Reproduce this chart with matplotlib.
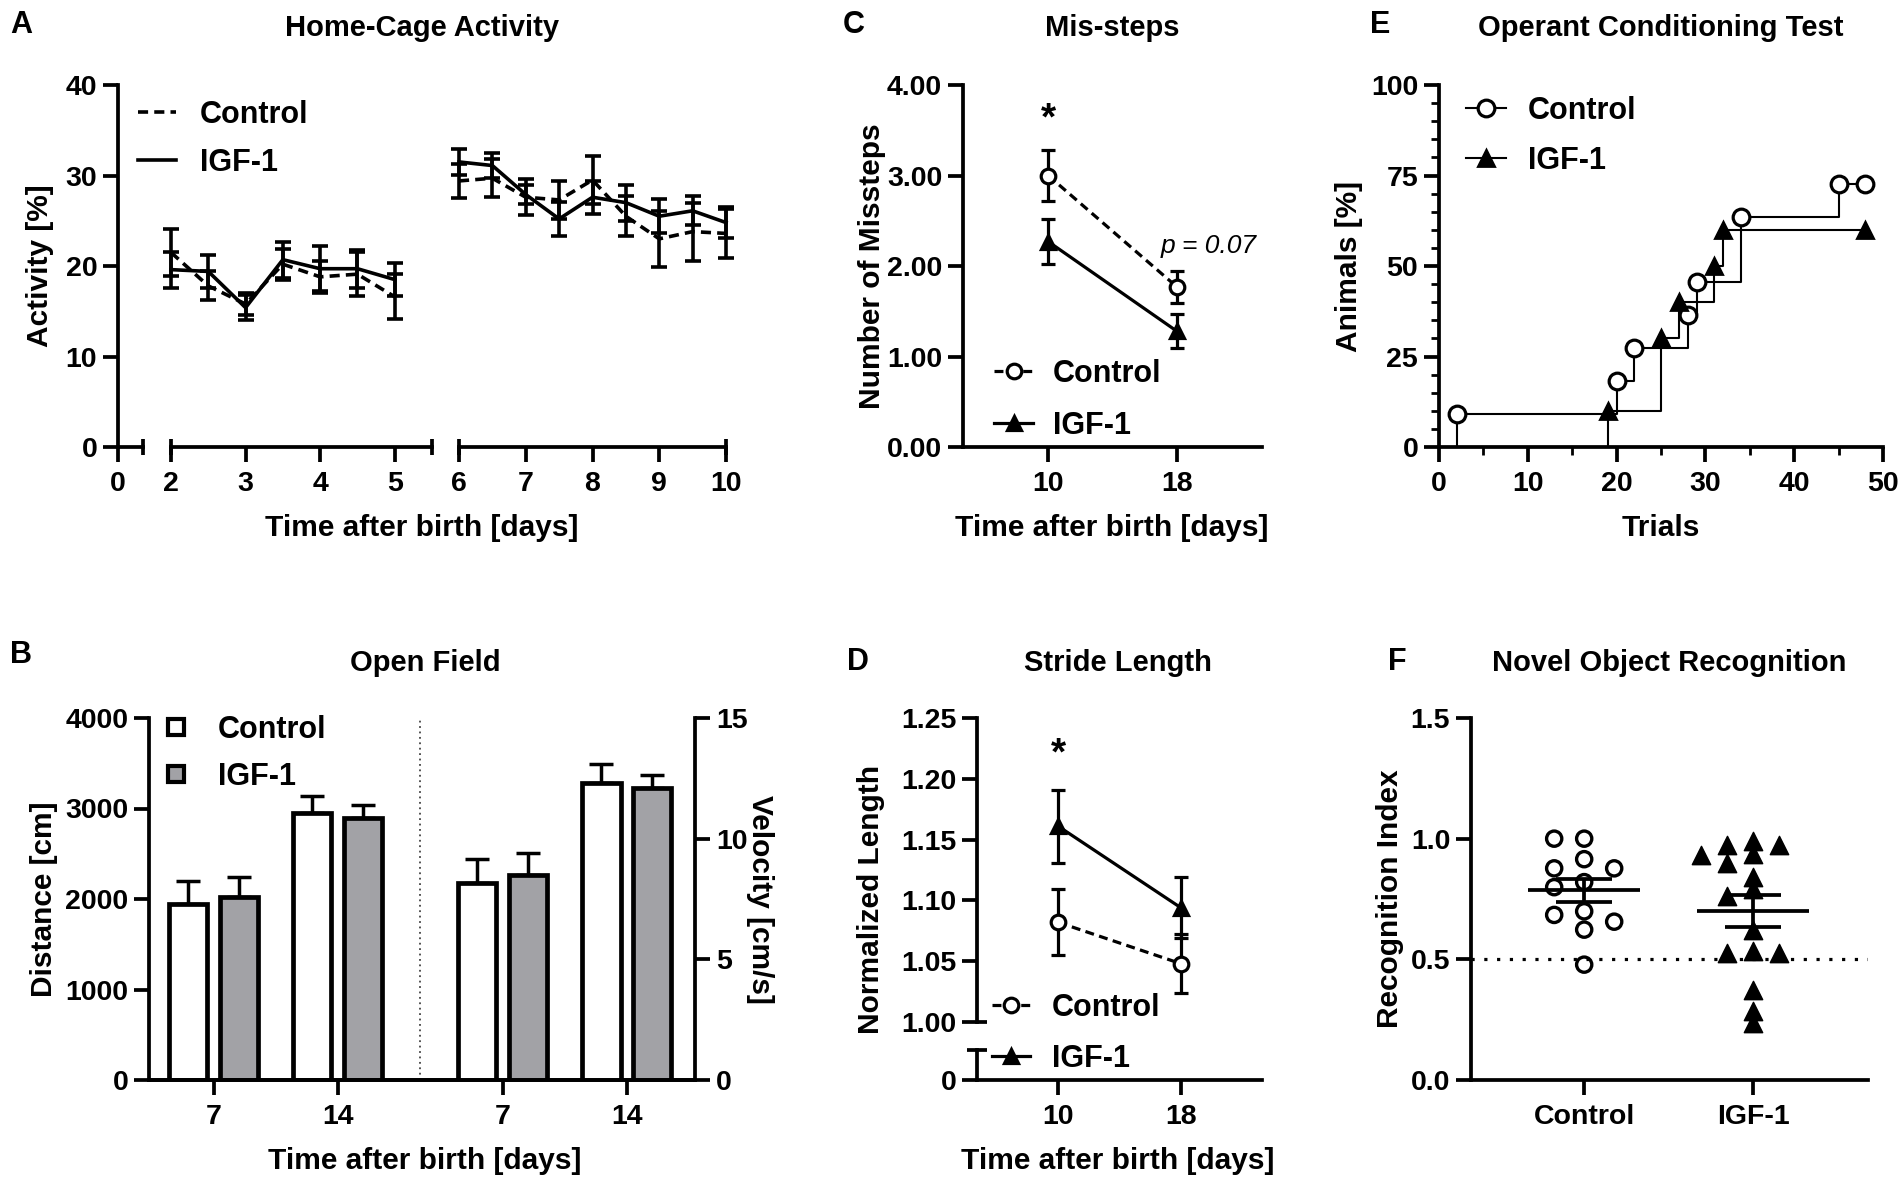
import numpy as np
import matplotlib
matplotlib.use("Agg")
import matplotlib.pyplot as plt
from matplotlib.lines import Line2D
from matplotlib.ticker import FixedLocator, MultipleLocator, FormatStrFormatter

plt.rcParams["font.family"] = ["Liberation Sans", "DejaVu Sans"]
plt.rcParams["font.weight"] = "bold"
plt.rcParams["axes.linewidth"] = 2.7
for a in ("xtick", "ytick"):
    plt.rcParams[a + ".major.width"] = 2.7
    plt.rcParams[a + ".major.size"] = 11
    plt.rcParams[a + ".minor.width"] = 2.0
    plt.rcParams[a + ".minor.size"] = 6
    plt.rcParams[a + ".labelsize"] = 20.5
plt.rcParams["xtick.major.pad"] = 6
plt.rcParams["ytick.major.pad"] = 4

# ---- data ----
# A: home-cage activity (%), half-day bins
days_a1 = [2, 2.5, 3, 3.5, 4, 4.5, 5]
ctrl_a1 = [21.5, 17.8, 15.8, 20.2, 18.8, 19.1, 16.6]
ctrl_a1_err = [2.6, 1.6, 1.2, 1.7, 1.8, 2.4, 2.5]
igf_a1 = [19.6, 19.4, 15.4, 20.7, 19.7, 19.7, 18.5]
igf_a1_err = [2.0, 1.8, 1.4, 2.0, 2.5, 2.1, 1.8]
days_a2 = [6, 6.5, 7, 7.5, 8, 8.5, 9, 9.5, 10]
ctrl_a2 = [29.4, 29.7, 27.6, 27.3, 29.5, 25.5, 23.0, 23.8, 23.6]
ctrl_a2_err = [1.9, 2.1, 2.0, 2.1, 2.7, 2.2, 3.1, 3.2, 2.7]
igf_a2 = [31.5, 31.1, 27.9, 25.2, 27.6, 27.0, 25.5, 26.1, 24.8]
igf_a2_err = [1.4, 1.4, 1.0, 1.9, 1.8, 2.0, 1.9, 1.6, 1.7]

# B: open field
ages_b = ["7", "14"]
dist_ctrl = [1950, 2950]
dist_ctrl_err = [250, 190]
dist_igf = [2020, 2890]
dist_igf_err = [225, 150]
vel_ctrl = [8.15, 12.3]
vel_ctrl_err = [1.0, 0.8]
vel_igf = [8.5, 12.1]
vel_igf_err = [0.9, 0.55]

# C: mis-steps
days_cd = [10, 18]
ctrl_c = [3.00, 1.77]
ctrl_c_err = [0.28, 0.18]
igf_c = [2.27, 1.28]
igf_c_err = [0.25, 0.19]

# D: stride length
ctrl_d = [1.082, 1.048]
ctrl_d_err = [0.027, 0.024]
igf_d = [1.161, 1.094]
igf_d_err = [0.030, 0.025]

# E: operant conditioning (cumulative % of animals reaching criterion)
ctrl_trials = [2, 20, 22, 28, 29, 34, 45, 48]
ctrl_pct = [9.1, 18.2, 27.3, 36.4, 45.5, 63.6, 72.7, 72.7]
igf_trials = [19, 25, 27, 31, 32, 48]
igf_pct = [10, 30, 40, 50, 60, 60]

# F: novel object recognition
nor_ctrl = [1.00, 1.00, 0.915, 0.877, 0.877, 0.820, 0.799, 0.699, 0.684, 0.656, 0.623, 0.478]
nor_igf = [0.991, 0.974, 0.972, 0.938, 0.934, 0.898, 0.841, 0.791, 0.763, 0.623,
           0.535, 0.525, 0.525, 0.371, 0.285, 0.235]
nor_groups = ["Control", "IGF-1"]

W, H = 1902, 1182
fig = plt.figure(figsize=(W / 100, H / 100), dpi=100)
GREY = "#a2a2a6"
DASH = (0, (2.8, 1.7))
FS_T = 21      # titles
FS_L = 21.5    # axis labels
FS_LEG = 22    # legends
FS_PX = FS_LEG * 100 / 72


def box(x0, y0, x1, y1):
    return [x0 / W, 1 - y1 / H, (x1 - x0) / W, (y1 - y0) / H]


def ftext(x, y, s, **kw):
    kw.setdefault("fontsize", FS_L)
    kw.setdefault("ha", "center")
    kw.setdefault("va", "center")
    fig.text(x / W, 1 - y / H, s, **kw)


def title(x, y, s):
    ftext(x, y, s, fontsize=FS_T, va="baseline")


def letter(x, y, s):
    ftext(x, y, s, fontsize=22, ha="left")


def clean(ax):
    ax.spines[["top", "right"]].set_visible(False)
    ax.patch.set_visible(False)


def legend_at(ax, handles, labels, x0, x1, xt, row1, row2):
    # handle from x0 to x1, text starting at xt, rows centred at row1 / row2 (pixels)
    h = 0.94 * FS_PX
    ax.legend(handles, labels, loc="upper left",
              bbox_to_anchor=(x0 / W, 1 - (row1 - h / 2) / H),
              bbox_transform=fig.transFigure, frameon=False, borderpad=0,
              borderaxespad=0, handlelength=(x1 - x0) / FS_PX,
              handletextpad=(xt - x1) / FS_PX,
              labelspacing=(row2 - row1 - h) / FS_PX, prop={"weight": "bold", "size": FS_LEG})


def swarm(vals, col_px, y_px, sep_x, sep_y, step):
    # greedy beeswarm so the markers of one column do not overlap
    vals = np.asarray(vals, float)
    offs = np.zeros(len(vals))
    placed = []
    cands = [0]
    for k in range(1, 15):
        cands += [-k, k]
    for i in np.argsort(-vals, kind="stable"):
        y = vals[i] * y_px
        for k in cands:
            x = k * step
            if all(((x - px) / sep_x) ** 2 + ((y - py) / sep_y) ** 2 >= 1 for px, py in placed):
                break
        placed.append((x, y))
        offs[i] = x / col_px
    return offs


eb = dict(color="k", capsize=5.5, elinewidth=2.6, capthick=2.6, clip_on=False)

# ---------------- A ----------------
a0 = fig.add_axes(box(118, 85, 143, 447))
a1 = fig.add_axes(box(171, 85, 432, 447))
a2 = fig.add_axes(box(459, 85, 726, 447))
for ax, lim in ((a0, (0, 0.35)), (a1, (2, 5.5)), (a2, (6, 10))):
    clean(ax)
    ax.set_xlim(*lim)
    ax.set_ylim(0, 40)
    ax.xaxis.remove_overlapping_locs = False
    ax.xaxis.set_minor_locator(FixedLocator(lim if ax is not a0 else [lim[1]]))
    ax.tick_params(axis="x", which="minor", direction="inout", length=11, width=2.7)
for ax in (a1, a2):
    ax.spines["left"].set_visible(False)
    ax.tick_params(axis="y", left=False, labelleft=False)
a0.set_xticks([0])
a0.set_yticks(range(0, 41, 10))
a1.set_xticks([2, 3, 4, 5])
a2.set_xticks(range(6, 11))
for ax, d, c, ce, g, ge in ((a1, days_a1, ctrl_a1, ctrl_a1_err, igf_a1, igf_a1_err),
                            (a2, days_a2, ctrl_a2, ctrl_a2_err, igf_a2, igf_a2_err)):
    ax.errorbar(d, c, yerr=ce, ls=DASH, lw=2.6, **eb)
    ax.errorbar(d, g, yerr=ge, ls="-", lw=2.6, **eb)
legend_at(a0, [Line2D([], [], color="k", ls=DASH, lw=2.6), Line2D([], [], color="k", lw=2.6)],
          ["Control", "IGF-1"], 138, 176, 200, 114, 161)
title(422, 36, "Home-Cage Activity")
ftext(40, 266, "Activity [%]", rotation=90)
ftext(422, 528, "Time after birth [days]")
letter(10, 25, "A")

# ---------------- C ----------------
ebm = dict(color="k", capsize=5, elinewidth=2.3, capthick=2.3, lw=2.3, ms=10.5, mew=2.3,
           clip_on=False)
c = fig.add_axes(box(963, 85, 1262, 447))
clean(c)
c.errorbar(days_cd, ctrl_c, yerr=ctrl_c_err, ls=DASH, marker="o", mfc="white", **ebm)
c.errorbar(days_cd, igf_c, yerr=igf_c_err, ls="-", marker="^", mfc="k", **ebm)
c.set_xlim(4.7, 23.3)
c.set_ylim(0, 4)
c.set_xticks(days_cd)
c.set_yticks(np.arange(0, 4.01, 1))
c.yaxis.set_major_formatter(FormatStrFormatter("%.2f"))
c.text(10, 3.62, "*", ha="center", va="center", fontsize=28)
c.text(20, 2.22, "p = 0.07", ha="center", va="center", fontsize=19, style="italic",
       fontweight="normal")
h_ctrl = Line2D([], [], color="k", ls=DASH, lw=2.3, marker="o", ms=10.5, mfc="white", mew=2.3)
h_igf = Line2D([], [], color="k", lw=2.3, marker="^", ms=10.5, mew=2.3)
legend_at(c, [h_ctrl, h_igf], ["Control", "IGF-1"], 994, 1033, 1053, 373, 424)
title(1112, 36, "Mis-steps")
ftext(872, 266, "Number of Missteps", rotation=90)
ftext(1112, 528, "Time after birth [days]")
letter(843, 25, "C")

# ---------------- E ----------------
e = fig.add_axes(box(1439, 85, 1883, 447))
clean(e)
e.step(np.r_[ctrl_trials[0], ctrl_trials], np.r_[0, ctrl_pct], where="post", color="k", lw=1.5)
e.step(np.r_[igf_trials[0], igf_trials], np.r_[0, igf_pct], where="post", color="k", lw=1.5)
e.plot(ctrl_trials, ctrl_pct, ls="none", marker="o", ms=12, mfc="white", mec="k", mew=2.3,
       clip_on=False, zorder=3)
e.plot(igf_trials, igf_pct, ls="none", marker="^", ms=12, mfc="k", mec="k", mew=2,
       clip_on=False, zorder=3)
e.set_xlim(0, 50)
e.set_ylim(0, 100)
e.xaxis.set_major_locator(MultipleLocator(10))
e.xaxis.set_minor_locator(MultipleLocator(5))
e.yaxis.set_major_locator(MultipleLocator(25))
e.yaxis.set_minor_locator(MultipleLocator(5))
legend_at(e, [Line2D([], [], color="k", lw=1.5, marker="o", ms=12, mfc="white", mew=2.3),
              Line2D([], [], color="k", lw=1.5, marker="^", ms=12, mew=2)],
          ["Control", "IGF-1"], 1466, 1506, 1528, 110, 159)
title(1661, 36, "Operant Conditioning Test")
ftext(1349, 266, "Animals [%]", rotation=90)
ftext(1661, 528, "Trials")
letter(1370, 25, "E")

# ---------------- B ----------------
b = fig.add_axes(box(149, 718, 695, 1080))
b.spines["top"].set_visible(False)
b.spines["right"].set_visible(False)
bv = b.twinx()
bv.spines[["top", "left"]].set_visible(False)
grp = np.arange(len(ages_b))
pos_dist = grp
pos_vel = grp + 2.33
off, bw = 0.205, 0.31
bar_kw = dict(edgecolor="k", linewidth=3.4, zorder=2)
err_kw = dict(elinewidth=2.5, capsize=8.5, capthick=2.5, ecolor="k", zorder=1)
for ax, pos, cv, ce, gv, ge in ((b, pos_dist, dist_ctrl, dist_ctrl_err, dist_igf, dist_igf_err),
                                (bv, pos_vel, vel_ctrl, vel_ctrl_err, vel_igf, vel_igf_err)):
    ax.bar(pos - off, cv, bw, color="white", yerr=[np.zeros(len(ce)), ce], error_kw=err_kw, **bar_kw)
    ax.bar(pos + off, gv, bw, color=GREY, yerr=[np.zeros(len(ge)), ge], error_kw=err_kw, **bar_kw)
b.axvline(np.mean([pos_dist[-1], pos_vel[0]]), color="#444444", ls=(0, (1, 2)), lw=1.3)
b.set_xlim(-0.52, 3.88)
b.set_ylim(0, 4000)
bv.set_ylim(0, 15)
b.set_yticks(range(0, 4001, 1000))
bv.set_yticks([0, 5, 10, 15])
b.set_xticks(np.r_[pos_dist, pos_vel])
b.set_xticklabels(ages_b * 2)
legend_at(b, [Line2D([], [], ls="none", marker="s", ms=11, mfc="white", mec="k", mew=3),
              Line2D([], [], ls="none", marker="s", ms=11, mfc=GREY, mec="k", mew=3)],
          ["Control", "IGF-1"], 166, 186, 218, 729, 775)
title(425, 671, "Open Field")
ftext(44, 899, "Distance [cm]", rotation=90)
ftext(760, 899, "Velocity [cm/s]", rotation=270)
ftext(425, 1161, "Time after birth [days]")
letter(10, 655, "B")

# ---------------- D ----------------
d_up = fig.add_axes(box(977, 718, 1262, 1022))
d_lo = fig.add_axes(box(977, 1050, 1262, 1080))
for ax in (d_up, d_lo):
    clean(ax)
    ax.set_xlim(4.7, 23.3)
d_up.spines["bottom"].set_visible(False)
d_up.tick_params(axis="x", bottom=False, labelbottom=False)
d_up.set_ylim(1.0, 1.25)
d_up.set_yticks(np.arange(1.0, 1.251, 0.05))
d_up.yaxis.set_major_formatter(FormatStrFormatter("%.2f"))
d_up.yaxis.remove_overlapping_locs = False
d_up.yaxis.set_minor_locator(FixedLocator([1.0]))
d_up.tick_params(axis="y", which="minor", direction="in", length=7, width=2.7)
d_lo.set_ylim(0, 1)
d_lo.set_yticks([0])
d_lo.yaxis.set_minor_locator(FixedLocator([1]))
d_lo.tick_params(axis="y", which="minor", direction="inout", length=14, width=2.7)
d_lo.set_xticks(days_cd)
d_up.errorbar(days_cd, ctrl_d, yerr=ctrl_d_err, ls=DASH, marker="o", mfc="white", **ebm)
d_up.errorbar(days_cd, igf_d, yerr=igf_d_err, ls="-", marker="^", mfc="k", **ebm)
d_up.text(10, 1.22, "*", ha="center", va="center", fontsize=28)
legend_at(d_up, [h_ctrl, h_igf], ["Control", "IGF-1"], 992, 1030, 1052, 1007, 1057)
title(1118, 671, "Stride Length")
ftext(871, 899, "Normalized Length", rotation=90)
ftext(1118, 1161, "Time after birth [days]")
letter(847, 662, "D")

# ---------------- F ----------------
f = fig.add_axes(box(1471, 718, 1868, 1080))
clean(f)
f.set_xlim(-0.67, 1.68)
f.set_ylim(0, 1.5)
f.axhline(0.5, color="k", ls=(0, (1, 3)), lw=2.3, zorder=1)
col_px, y_px = 397 / 2.35, 362 / 1.5
for i, (vals, mk) in enumerate(((nor_ctrl, "o"), (nor_igf, "^"))):
    vals = np.asarray(vals)
    if mk == "o":
        xo = swarm(vals, col_px, y_px, 30, 14, 15)
        f.scatter(i + xo, vals, s=120, marker="o", facecolors="none", edgecolors="k",
                  linewidths=2.4, zorder=3, clip_on=False)
    else:
        xo = swarm(vals, col_px, y_px, 26, 12, 13)
        f.scatter(i + xo, vals, s=175, marker="^", color="k", zorder=3, clip_on=False)
    m = vals.mean()
    sem = vals.std(ddof=1) / np.sqrt(len(vals))
    f.hlines(m, i - 0.33, i + 0.33, color="k", lw=2.7, zorder=4)
    f.errorbar(i, m, yerr=sem, fmt="none", ecolor="k", elinewidth=2.7, capsize=20,
               capthick=2.7, zorder=4)
f.set_xticks(range(len(nor_groups)))
f.set_xticklabels(nor_groups)
f.set_yticks([0, 0.5, 1.0, 1.5])
f.yaxis.set_major_formatter(FormatStrFormatter("%.1f"))
title(1669, 671, "Novel Object Recognition")
ftext(1390, 899, "Recognition Index", rotation=90)
letter(1388, 662, "F")

fig.savefig("out.png", dpi=100, facecolor="white")
